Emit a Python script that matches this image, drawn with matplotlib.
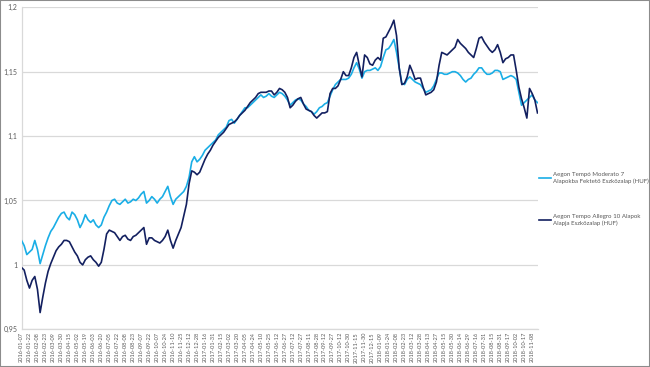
import matplotlib
matplotlib.use("Agg")
import matplotlib.pyplot as plt
import numpy as np
from matplotlib.patches import Rectangle

plt.rcParams['font.family'] = ['Lato', 'DejaVu Sans']

tick_labels = [
    "2016-01-07", "2016-01-22", "2016-02-08", "2016-02-23", "2016-03-09", "2016-03-30",
    "2016-04-15", "2016-05-02", "2016-05-19", "2016-06-03", "2016-06-20", "2016-07-05",
    "2016-07-22", "2016-08-08", "2016-08-23", "2016-09-07", "2016-09-22", "2016-10-07",
    "2016-10-24", "2016-11-10", "2016-11-25", "2016-12-12", "2016-12-28",
    "2017-01-16", "2017-01-31", "2017-02-15", "2017-03-02", "2017-03-20", "2017-04-05",
    "2017-04-24", "2017-05-10", "2017-05-25", "2017-06-12", "2017-06-27", "2017-07-12",
    "2017-07-27", "2017-08-11", "2017-08-28", "2017-09-12", "2017-09-27", "2017-10-12",
    "2017-10-30", "2017-11-15", "2017-11-30", "2017-12-15",
    "2018-01-09", "2018-01-24", "2018-02-08", "2018-02-23", "2018-03-12", "2018-03-28",
    "2018-04-13", "2018-04-27", "2018-05-15", "2018-05-30", "2018-06-14", "2018-06-29",
    "2018-07-16", "2018-07-31", "2018-08-15", "2018-08-31", "2018-09-17", "2018-10-02",
    "2018-10-17", "2018-11-08",
]

moderato = [
    1.019, 1.015, 1.008, 1.010, 1.012, 1.019, 1.012, 1.001, 1.008, 1.015,
    1.021, 1.026, 1.029, 1.033, 1.037, 1.040, 1.041, 1.037, 1.035, 1.041,
    1.039, 1.035, 1.029, 1.033, 1.039, 1.035, 1.033, 1.035, 1.031, 1.029,
    1.031, 1.037, 1.041, 1.046, 1.050, 1.051, 1.048, 1.047, 1.049, 1.051,
    1.048, 1.049, 1.051, 1.050, 1.052, 1.055, 1.057, 1.048, 1.050, 1.053,
    1.051, 1.048, 1.051, 1.053, 1.057, 1.061, 1.053, 1.047, 1.051, 1.053,
    1.055, 1.057, 1.061, 1.068, 1.080, 1.084, 1.080, 1.082, 1.085, 1.089,
    1.091, 1.093, 1.095, 1.097, 1.101, 1.103, 1.105, 1.107, 1.112, 1.113,
    1.110, 1.113, 1.116, 1.119, 1.122, 1.122, 1.124, 1.126, 1.128, 1.130,
    1.132, 1.130, 1.131, 1.133, 1.131, 1.130, 1.132, 1.134, 1.133, 1.131,
    1.128, 1.124, 1.126, 1.128, 1.129, 1.128, 1.125, 1.123, 1.120, 1.119,
    1.117, 1.119, 1.122, 1.123, 1.125, 1.126, 1.131, 1.136, 1.140, 1.142,
    1.144, 1.144, 1.144, 1.145, 1.148, 1.153, 1.157, 1.152, 1.145, 1.150,
    1.151, 1.151, 1.152, 1.153, 1.151, 1.154, 1.161, 1.167, 1.168, 1.171,
    1.175, 1.165, 1.153, 1.141, 1.140, 1.144, 1.146, 1.144, 1.142, 1.141,
    1.140, 1.137, 1.134, 1.135, 1.136, 1.139, 1.144, 1.149, 1.149, 1.148,
    1.148, 1.149, 1.150, 1.150, 1.149, 1.147, 1.144, 1.142, 1.144, 1.145,
    1.148, 1.150, 1.153, 1.153, 1.150, 1.148, 1.148, 1.149, 1.151, 1.151,
    1.150, 1.144, 1.145, 1.146, 1.147, 1.146, 1.144, 1.134, 1.124, 1.126,
    1.128, 1.130, 1.132, 1.128, 1.126,
]

allegro = [
    0.998, 0.996, 0.988, 0.982, 0.988, 0.991, 0.981, 0.963, 0.975, 0.986,
    0.995, 1.001, 1.006, 1.011, 1.014, 1.016, 1.019, 1.019, 1.018, 1.014,
    1.010, 1.007, 1.002, 1.000, 1.004, 1.006, 1.007, 1.004, 1.002, 0.999,
    1.002, 1.012, 1.024, 1.027, 1.026, 1.025, 1.022, 1.019, 1.022, 1.023,
    1.020, 1.019, 1.022, 1.023, 1.025, 1.027, 1.029, 1.016, 1.021, 1.021,
    1.019, 1.018, 1.017, 1.019, 1.022, 1.027, 1.019, 1.013, 1.019, 1.024,
    1.029, 1.038, 1.047, 1.063, 1.073, 1.072, 1.070, 1.072, 1.077, 1.082,
    1.086, 1.089, 1.093, 1.096, 1.099, 1.101, 1.103, 1.106, 1.109, 1.110,
    1.111, 1.113, 1.116, 1.118, 1.120, 1.123, 1.126, 1.128, 1.130, 1.133,
    1.134, 1.134, 1.134, 1.135, 1.135, 1.132, 1.134, 1.137, 1.136, 1.134,
    1.130, 1.122, 1.124, 1.127, 1.129, 1.130, 1.125, 1.121, 1.120, 1.119,
    1.116, 1.114, 1.116, 1.118, 1.118, 1.119, 1.133, 1.137, 1.137, 1.139,
    1.144, 1.150, 1.147, 1.147, 1.153, 1.161, 1.165, 1.155, 1.146, 1.163,
    1.161, 1.156, 1.155, 1.159, 1.161, 1.159, 1.176, 1.177, 1.181, 1.185,
    1.190, 1.178, 1.153, 1.140, 1.141, 1.146, 1.155, 1.150, 1.144, 1.145,
    1.145, 1.138, 1.132, 1.133, 1.134, 1.136, 1.142, 1.155, 1.165, 1.164,
    1.163, 1.165, 1.167, 1.169, 1.175, 1.172, 1.170, 1.168, 1.165, 1.163,
    1.161, 1.168, 1.176, 1.177, 1.173, 1.170, 1.167, 1.165, 1.167, 1.171,
    1.165, 1.157, 1.160, 1.161, 1.163, 1.163, 1.151, 1.138, 1.129, 1.122,
    1.114, 1.137, 1.133, 1.128, 1.118,
]

series_names = [
    "Aegon Tempó Moderato 7\nAlapokba Fektető Eszközalap (HUF)",
    "Aegon Tempo Allegro 10 Alapok\nAlapja Eszközalap (HUF)",
]
series_colors = ["#1aaee6", "#132060"]

y_ticks = [0.95, 1.0, 1.05, 1.1, 1.15, 1.2]
y_tick_labels = ["0,95", "1", "1,05", "1,1", "1,15", "1,2"]

samples_per_tick = 3

fig = plt.figure(figsize=(6.5, 3.67), dpi=100)
ax = fig.add_axes([21.5 / 650, 1 - 329.3 / 367, (537.5 - 21.5) / 650, (329.3 - 7.3) / 367])

x = np.arange(len(moderato))
ax.plot(x, moderato, color=series_colors[0], lw=1.2, label=series_names[0], zorder=3)
ax.plot(x, allegro, color=series_colors[1], lw=1.2, label=series_names[1], zorder=4)

ax.set_xlim(0, len(moderato) - 1)
ax.set_ylim(0.95, 1.2)
ax.set_yticks(y_ticks)
ax.set_yticklabels(y_tick_labels, fontsize=5.0, color="#595959")
ax.set_xticks(np.arange(len(tick_labels)) * samples_per_tick)
ax.set_xticklabels(tick_labels, rotation=90, fontsize=4.1, color="#595959")
ax.tick_params(axis='y', length=0, pad=3)
ax.tick_params(axis='x', length=0, pad=2)

ax.grid(axis='y', color="#d9d9d9", lw=0.9)
ax.set_axisbelow(True)
for s in ["top", "right"]:
    ax.spines[s].set_visible(False)
ax.spines["left"].set_color("#d9d9d9")
ax.spines["bottom"].set_color("#d9d9d9")
ax.spines["left"].set_linewidth(0.9)
ax.spines["bottom"].set_linewidth(0.9)

leg = fig.legend(loc="center left", bbox_to_anchor=(539 / 650, 1 - 199 / 367),
                 frameon=False, fontsize=4.4, labelspacing=5.0, handlelength=2.0,
                 handletextpad=0.3, borderpad=0, borderaxespad=0)
for t in leg.get_texts():
    t.set_color("#595959")

fig.patches.append(Rectangle((0, 0), 1, 1, transform=fig.transFigure, fill=False,
                             edgecolor="#8c8c8c", lw=1.5))

fig.savefig("out.png", dpi=100)
